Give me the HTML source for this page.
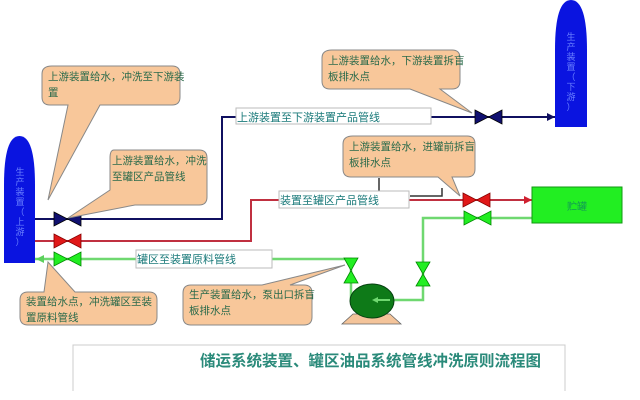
<!DOCTYPE html>
<html><head><meta charset="utf-8"><style>
html,body{margin:0;padding:0;background:#fff;}
svg{display:block;font-family:"Liberation Sans","Noto Sans CJK SC",sans-serif;}
</style></head><body>
<svg width="640" height="400" viewBox="0 0 640 400">
<!-- tanks -->
<path d="M4,263 L4,185 Q4,136 19.5,136 Q35,136 35,185 L35,263 Z" fill="#0a14e0"/>
<g font-size="9" fill="#6a80ff" text-anchor="middle">
<text x="20" y="175">生</text><text x="20" y="185">产</text><text x="20" y="195">装</text><text x="20" y="205">置</text><text x="20" y="215">（</text><text x="20" y="225">上</text><text x="20" y="235">游</text><text x="20" y="245">）</text>
</g>
<path d="M555,127 L555,50 Q555,0 571,0 Q587,0 587,50 L587,127 Z" fill="#0a14e0"/>
<g font-size="9" fill="#6a80ff" text-anchor="middle">
<text x="571" y="40">生</text><text x="571" y="50">产</text><text x="571" y="60">装</text><text x="571" y="70">置</text><text x="571" y="80">（</text><text x="571" y="90">下</text><text x="571" y="100">游</text><text x="571" y="110">）</text>
</g>
<!-- blue line -->
<polyline points="35,219 222,219 222,117 555,117" fill="none" stroke="#101060" stroke-width="2"/>
<polygon points="555,117 547,113 547,121" fill="#101060"/>
<!-- red line -->
<polyline points="35,241 251,241 251,200 532,200" fill="none" stroke="#c03040" stroke-width="2"/>
<polygon points="532,200 524,196 524,204" fill="#d02030"/>
<!-- black small lines -->
<polyline points="379,178 379,194" stroke="#333" stroke-width="1.5" fill="none"/>
<polyline points="410,196 442,196 442,188" stroke="#333" stroke-width="1.5" fill="none"/>
<!-- green lines -->
<polyline points="532,218 423,218 423,300 390,300" fill="none" stroke="#6fd870" stroke-width="2.5"/>
<polyline points="351,300 351,259 35,259" fill="none" stroke="#6fd870" stroke-width="2.5"/>
<polygon points="36,259 44,255 44,263" fill="#5cd05c"/>
<!-- green box -->
<rect x="532" y="187" width="90" height="36" fill="#22ee22" stroke="#119911"/>
<text x="577" y="210" font-size="10" fill="#119955" text-anchor="middle">贮罐</text>
<!-- label boxes -->
<rect x="236" y="108" width="195" height="16" fill="#fff" stroke="#bbb"/>
<text x="237" y="121" font-size="11" fill="#1a7a7a">上游装置至下游装置产品管线</text>
<rect x="279" y="191" width="130" height="17" fill="#fff" stroke="#bbb"/>
<text x="280" y="204" font-size="11" fill="#1a7a7a">装置至罐区产品管线</text>
<rect x="136" y="250" width="136" height="18" fill="#fff" stroke="#bbb"/>
<text x="137" y="263" font-size="11" fill="#1a7a7a">罐区至装置原料管线</text>
<!-- valves -->
<g stroke-width="0.8">
<polygon points="54,212 81,226 81,212 54,226" fill="#101070" stroke="#000"/>
<polygon points="54,234 81,248 81,234 54,248" fill="#e01818" stroke="#800"/>
<polygon points="54,252 81,266 81,252 54,266" fill="#22ee22" stroke="#080"/>
<polygon points="475,110 502,124 502,110 475,124" fill="#101070" stroke="#000"/>
<polygon points="463,193 490,207 490,193 463,207" fill="#e01818" stroke="#800"/>
<polygon points="464,211 491,225 491,211 464,225" fill="#22ee22" stroke="#080"/>
<polygon points="344,258 358,258 344,283 358,283" fill="#22ee22" stroke="#080"/>
<polygon points="416,262 430,262 416,286 430,286" fill="#22ee22" stroke="#080"/>
</g>
<!-- pump -->
<polygon points="342,324 401,324 390,314 353,314" fill="#f4c49a" stroke="#666" stroke-width="0.8"/>
<ellipse cx="372" cy="301" rx="22" ry="17" fill="#0e7a18" stroke="#064010"/>
<line x1="390" y1="300" x2="375" y2="300" stroke="#6fd870" stroke-width="2"/>
<polygon points="372,300 378,297 378,303" fill="#6fd870"/>
<!-- callouts -->
<g fill="#f8c79a" stroke="#888" stroke-width="1">
<path d="M52,66 L172,66 Q180,66 180,74 L180,97 Q180,105 172,105 L100,105 L48,200 L68,105 L50,105 Q42,105 42,97 L42,74 Q42,66 52,66 Z"/>
<path d="M114,150 L199,150 Q207,150 207,158 L207,197 Q207,205 199,205 L135,205 L68,218 L110,190 L110,158 Q110,150 114,150 Z"/>
<path d="M332,50 L452,50 Q460,50 460,58 L460,81 Q460,89 452,89 L440,89 L472,113 L410,89 L330,89 Q322,89 322,81 L322,58 Q322,50 332,50 Z"/>
<path d="M353,136 L467,136 Q475,136 475,144 L475,169 Q475,177 467,177 L452,177 L460,196 L438,177 L351,177 Q343,177 343,169 L343,144 Q343,136 353,136 Z"/>
<path d="M28,292 L44,292 L48,262 L75,292 L149,292 Q157,292 157,300 L157,317 Q157,325 149,325 L28,325 Q20,325 20,317 L20,300 Q20,292 28,292 Z"/>
<path d="M191,285 L262,285 L345,265 L290,285 L304,285 Q312,285 312,293 L312,317 Q312,325 304,325 L191,325 Q183,325 183,317 L183,293 Q183,285 191,285 Z"/>
</g>
<g font-size="10.5" fill="#2a6a4a">
<text x="48" y="80">上游装置给水，冲洗至下游装</text><text x="48" y="96">置</text>
<text x="112" y="164">上游装置给水，冲洗</text><text x="112" y="180">至罐区产品管线</text>
<text x="328" y="64">上游装置给水，下游装置拆盲</text><text x="328" y="80">板排水点</text>
<text x="349" y="150">上游装置给水，进罐前拆盲</text><text x="349" y="166">板排水点</text>
<text x="26" y="305">装置给水点，冲洗罐区至装</text><text x="26" y="321">置原料管线</text>
<text x="189" y="298">生产装置给水，泵出口拆盲</text><text x="189" y="314">板排水点</text>
</g>
<!-- title panel -->
<polyline points="73,391 73,345 565,345 565,391" fill="none" stroke="#ccc" stroke-width="1"/>
<text x="200" y="366" font-size="15.5" font-weight="bold" fill="#2a8a7a">储运系统装置、罐区油品系统管线冲洗原则流程图</text>
</svg>
</body></html>
